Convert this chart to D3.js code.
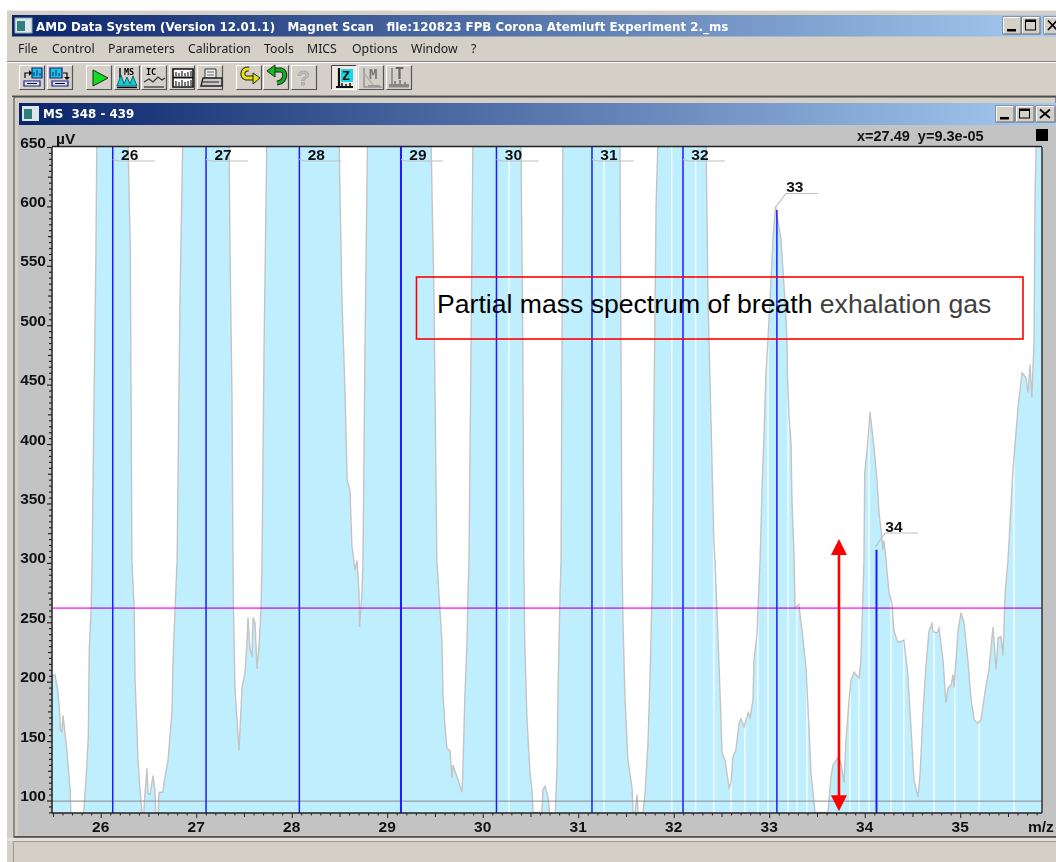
<!DOCTYPE html>
<html><head><meta charset="utf-8">
<script src="https://cdn.jsdelivr.net/npm/d3@7"></script>
<style>
html,body{margin:0;padding:0;background:#fff;overflow:hidden}
svg{display:block}
.ui{font-family:"Noto Sans",sans-serif;font-size:12.3px;fill:#1a1a1a}
.bold{font-family:"Liberation Sans",Arial,sans-serif;font-weight:bold;font-size:15.5px;fill:#111}
.title{font-family:"DejaVu Sans",sans-serif;font-weight:bold;font-size:11.85px;fill:#fff}
</style></head><body><div id="c"></div>
<script>
// ---------- data ----------
const mz = [25.49,25.52,25.55,25.57,25.58,25.595,25.605,25.64,25.68,25.69,25.815,25.825,25.85,25.87,25.88,25.90,25.91,25.93,25.95,25.96,
26.285,26.31,26.327,26.35,26.36,26.38,26.39,26.41,26.43,26.44,26.45,26.458,26.485,26.495,26.516,26.548,26.568,26.578,26.60,26.61,26.65,26.673,26.705,26.747,26.757,26.778,26.80,26.83,26.86,
27.343,27.354,27.375,27.385,27.39,27.406,27.427,27.448,27.47,27.48,27.51,27.532,27.542,27.563,27.584,27.595,27.616,27.636,27.657,27.678,27.689,27.71,27.74,
28.495,28.526,28.558,28.58,28.61,28.63,28.663,28.684,28.705,28.71,28.736,28.746,28.767,28.794,
29.458,29.49,29.52,29.55,29.574,29.584,29.605,29.626,29.657,29.678,29.689,29.73,29.783,29.793,29.814,29.835,29.846,29.856,29.877,29.898,
30.40,30.42,30.43,30.44,30.463,30.495,30.516,30.527,30.62,30.63,30.652,30.684,30.705,30.757,30.778,30.788,30.81,30.82,30.84,
31.437,31.458,31.47,31.49,31.52,31.563,31.574,31.595,31.616,31.626,31.678,31.70,31.73,31.752,31.773,31.794,31.815,31.836,
32.338,32.359,32.39,32.42,32.432,32.453,32.485,32.506,32.537,32.579,32.60,32.62,32.65,32.684,32.705,32.737,32.78,32.80,32.83,32.84,32.872,32.883,32.904,32.925,32.946,32.966,32.987,
33.018,33.04,33.066,33.08,33.123,33.165,33.186,33.19,33.207,33.228,33.238,33.26,33.27,33.31,33.343,33.385,33.416,33.437,33.48,33.615,33.647,33.668,33.72,33.75,33.783,33.804,33.836,33.856,33.888,33.94,33.96,33.982,33.992,
34.0,34.034,34.055,34.076,34.097,34.128,34.15,34.17,34.19,34.2,34.22,34.254,34.285,34.306,34.337,34.358,34.41,34.45,34.484,34.516,34.557,34.58,34.61,34.64,34.673,34.705,34.715,34.757,34.778,34.82,34.85,34.872,34.904,34.925,34.935,34.977,
35.008,35.04,35.08,35.113,35.145,35.186,35.217,35.27,35.30,35.343,35.375,35.396,35.427,35.448,35.47,35.50,35.55,35.605,35.647,35.688,35.71,35.73,35.75,35.773,35.783,35.794,35.80,35.856];
const uV = [204,206,193,174,159,158,172,147,109,85,85,94,123,153,227,262,302,437,563,660,
660,563,302,262,201,159,134,111,92,85,85,100,127,106,105,121,109,85,85,107,107,120,134,176,218,260,302,521,660,
660,563,437,302,262,195,168,142,179,195,207,233,254,228,221,254,249,211,229,260,302,479,660,
660,521,445,370,361,315,294,302,275,246,275,302,479,660,
660,521,302,263,233,190,162,144,142,119,130,120,107,128,190,233,275,302,479,660,
660,479,302,233,170,123,109,90,90,109,112,103,85,85,128,190,275,302,660,
660,302,246,185,134,111,90,90,105,90,90,106,148,204,275,437,600,660,
660,521,420,319,302,260,190,140,134,111,115,137,142,165,169,162,174,170,185,218,241,263,302,364,409,460,488,
538,574,600,593,572,521,488,460,423,401,353,305,262,265,243,212,162,123,90,90,120,130,136,132,115,151,185,201,208,203,218,275,302,
376,403,427,412,397,370,342,328,311,319,305,275,266,243,235,233,235,207,162,117,103,123,174,212,243,249,242,241,245,218,182,195,197,206,195,243,
258,249,218,185,168,165,168,197,210,246,210,237,238,222,275,302,376,431,460,456,443,467,439,488,609,648,660,660];
// centroid sticks: nominal mass, position, height
const stickMass = [26,27,28,29,30,31,32,33,34];
const stickMz   = [26.126,27.103,28.08,29.144,30.144,31.144,32.097,33.08,34.123];
const stickUV   = [660,660,660,660,660,660,660,597,311];
// scan gaps (thin white lines inside the filled profile)
const gapMz = [30.275,31.27,31.98,32.23,32.42,32.6,32.745,32.88,32.987,33.197,33.29,33.395,33.846,33.94,34.045,34.275,34.41,34.725,34.945,35.197,35.563];
const xTicks = [26,27,28,29,30,31,32,33,34,35];
const yLabels = [100,150,200,250,300,350,400,450,500,550,600,650];
const thresholdUV = 262, baselineUV = 99.5;
const arrowMz = 33.73, arrowTopUV = 320, arrowBottomUV = 91;
const menuItems = ["File","Control","Parameters","Calibration","Tools","MICS","Options","Window","?"];
const menuStart = [18,52,108,188,264,307,352,411,471];
const appTitle = "AMD Data System (Version 12.01.1)   Magnet Scan   file:120823 FPB Corona Atemluft Experiment 2._ms";
const subTitle = "MS  348 - 439";
const readout = "x=27.49  y=9.3e-05";
const noteA = "Partial mass spectrum of breath ", noteB = "exhalation gas";

// ---------- layout ----------
const W=1056,H=862;
const L=52,R=1042,T=147,B=813;
const x=d3.scaleLinear().domain([25.49,35.856]).range([L,R]);
const y=d3.scaleLinear().domain([89.5,650]).range([B,T]);
const svg=d3.select("#c").append("svg").attr("width",W).attr("height",H);
const defs=svg.append("defs");
const grad=(id,c0,c1)=>{const g=defs.append("linearGradient").attr("id",id);
  g.append("stop").attr("offset","0").attr("stop-color",c0);
  g.append("stop").attr("offset","1").attr("stop-color",c1);};
grad("tb","#0a246a","#a6caf0");
defs.append("clipPath").attr("id","plot").append("rect").attr("x",L).attr("y",T).attr("width",R-L).attr("height",B-T);
const pts=mz.map((m,i)=>[m,uV[i]]);
const line=d3.line().x(d=>x(d[0])).y(d=>y(d[1]));
const area=d3.area().x(d=>x(d[0])).y0(y(80)).y1(d=>y(d[1]));
defs.append("clipPath").attr("id","under").append("path").attr("d",area(pts));

const shot=svg.append("g").style("filter","blur(0.35px)");
// window chrome
shot.append("rect").attr("x",7).attr("y",10).attr("width",W-7).attr("height",H-10).attr("fill","#d4d0c8");
shot.append("rect").attr("x",7).attr("y",10).attr("width",W-7).attr("height",1).attr("fill","#eeeae4");
shot.append("rect").attr("x",12).attr("y",15).attr("width",W-12).attr("height",21.5).attr("fill","url(#tb)");
shot.append("rect").attr("x",15).attr("y",18).attr("width",17).attr("height",15).attr("fill","#dfe6ea").attr("stroke","#8aa","stroke-width",.5);
shot.append("rect").attr("x",17).attr("y",21).attr("width",8).attr("height",10).attr("fill","#2f7f7f");
shot.append("text").attr("class","title").attr("x",36).attr("y",30.5).attr("xml:space","preserve").style("white-space","pre").text(appTitle);
shot.selectAll("text.m").data(menuItems).join("text").attr("class","ui m").attr("x",(d,i)=>menuStart[i]).attr("y",53).text(d=>d);
shot.append("rect").attr("x",7).attr("y",61).attr("width",W-7).attr("height",1).attr("fill","#808080");
shot.append("rect").attr("x",7).attr("y",62).attr("width",W-7).attr("height",1).attr("fill","#fff");
shot.append("rect").attr("x",12).attr("y",95.5).attr("width",W-12).attr("height",1.5).attr("fill","#555");

// inner window
shot.append("rect").attr("x",14).attr("y",97).attr("width",W-14).attr("height",740).attr("fill","#d4d0c8").attr("stroke","#444","stroke-width",1.4);
shot.append("rect").attr("x",19).attr("y",103).attr("width",W-19).attr("height",22).attr("fill","url(#tb)");
shot.append("rect").attr("x",22).attr("y",106).attr("width",17).attr("height",15).attr("fill","#dfe6ea");
shot.append("rect").attr("x",24).attr("y",109).attr("width",8).attr("height",10).attr("fill","#2f7f7f");
shot.append("text").attr("class","title").attr("x",43).attr("y",118).attr("xml:space","preserve").style("white-space","pre").text(subTitle);
shot.append("rect").attr("x",18).attr("y",125).attr("width",W-18).attr("height",711).attr("fill","#c3c3c3");
shot.append("rect").attr("x",14).attr("y",836).attr("width",W-14).attr("height",1.6).attr("fill","#555");
shot.append("rect").attr("x",7).attr("y",838).attr("width",W-7).attr("height",3).attr("fill","#e4e0da");
shot.append("rect").attr("x",13).attr("y",841).attr("width",W-13).attr("height",1).attr("fill","#9a9a9a");
shot.append("rect").attr("x",13).attr("y",841).attr("width",1).attr("height",21).attr("fill","#9a9a9a");

// window buttons
function winBtn(bx,by,bw,bh,k){
  const g=shot.append("g").attr("transform",`translate(${bx},${by})`);
  g.append("rect").attr("width",bw).attr("height",bh).attr("fill","#d4d0c8").attr("stroke","#666").attr("stroke-width",1);
  g.append("path").attr("d",`M0.5 ${bh-.5}V.5H${bw-.5}`).attr("fill","none").attr("stroke","#fff");
  if(k==="min")g.append("rect").attr("x",4).attr("y",bh-5).attr("width",bw-9).attr("height",2.5).attr("fill","#000");
  if(k==="max"){g.append("rect").attr("x",3.5).attr("y",3).attr("width",bw-8).attr("height",bh-7).attr("fill","none").attr("stroke","#000");
    g.append("rect").attr("x",3.5).attr("y",3).attr("width",bw-8).attr("height",2).attr("fill","#000");}
  if(k==="x")g.append("path").attr("d",`M4 3.5L${bw-5} ${bh-4}M${bw-5} 3.5L4 ${bh-4}`).attr("stroke","#000").attr("stroke-width",1.8);
}
winBtn(1003,17,18,17,"min");winBtn(1022,17,18,17,"max");winBtn(1044,17,18,17,"x");
winBtn(996,106,18,16,"min");winBtn(1016,106,18,16,"max");winBtn(1036,106,19,16,"x");

// toolbar
const btns=[[19,"a"],[47,"b"],[86,"play"],[114,"ms"],[141,"ic"],[169,"tab"],[197,"print"],[236,"yel"],[263,"grn"],[291,"help"],[331,"z"],[358,"m"],[386,"t"]];
btns.forEach(([bx,k])=>{
  const g=shot.append("g").attr("transform",`translate(${bx},65)`);
  const pressed=k==="z";
  g.append("rect").attr("width",26).attr("height",25).attr("fill",pressed?"#ece9e3":"#d4d0c8");
  g.append("path").attr("d","M.5 24.5V.5H25.5").attr("fill","none").attr("stroke",pressed?"#444":"#fff");
  g.append("path").attr("d","M25.5 .5V24.5H.5").attr("fill","none").attr("stroke",pressed?"#fff":"#555").attr("stroke-width",1.2);
  const p=(d,f,s,w)=>g.append("path").attr("d",d).attr("fill",f||"none").attr("stroke",s||"none").attr("stroke-width",w||1);
  const lbl=(t,lx,ly,c,fs)=>g.append("text").attr("x",lx).attr("y",ly).attr("fill",c||"#000").attr("font-family","DejaVu Sans Mono").attr("font-weight","bold").attr("font-size",fs||8.5).text(t);
  if(k==="a"){p("M13 3h10v10h-10z","#18c8d8","#1a1a8a",1.2);p("M15 11v-4M18 11v-6M21 11v-3","none","#1a1a8a");p("M10 8h-4v5","none","#000",1.2);p("M10 5l3 3l-3 3","#000");p("M5 16h16v5h-16z","#d8e4f0","#1a1a8a",1.2);p("M8 18.5h10","none","#000");}
  if(k==="b"){p("M3 3h12v10h-12z","#18c8d8","#1a1a8a",1.2);p("M6 11v-4M9 11v-6M12 11v-3","none","#1a1a8a");p("M16 8h4v5","none","#000",1.2);p("M17 12h6l-3 3z","#000");p("M5 16h16v5h-16z","#d8e4f0","#1a1a8a",1.2);p("M8 18.5h10","none","#000");}
  if(k==="play"){p("M7 5L22 13L7 21z","#10e020","#222",1);}
  if(k==="ms"){lbl("MS",10,10);p("M6 3v10","none","#000",1.4);p("M3 21L7 10L10 19L13 12L16 19L19 11L23 21z","#18c8d8","#0a6a6a");p("M3 22.5h20","none","#000",1.4);}
  if(k==="ic"){lbl("IC",5,10);p("M3 17L8 14L12 17L17 12L21 15L24 13","none","#333",1.2);p("M3 22h20","none","#444",1.4);}
  if(k==="tab"){p("M4 4h20v18h-20z","#fff","#111",1.6);p("M4 12.5h20","none","#111",2);
    p("M7 11V7M10 11V8M13 11V6M16 11V8M19 11V7M22 11V6M7 21V16M10 21V17M13 21V15M16 21V17M19 21V16M22 21V15","none","#222",1.2);}
  if(k==="print"){p("M8 4h11v9h-11z","#eee","#333");p("M4 21l2-8h17l2 0v8z","#c8c8c8","#222",1.4);p("M10 7h7M10 10h7","none","#666");p("M6 17h16","none","#222");}
  if(k==="yel"){p("M13 4C6 3 5 12 10 13H19","none","#222",5);p("M13 4C6 3 5 12 10 13H19","none","#e6e010",3);p("M17 8L24 13L17 19z","#e6e010","#222");}
  if(k==="grn"){p("M11 5H18C24 6 23 17 14 18","none","#222",5);p("M11 5H18C24 6 23 17 14 18","none","#10b020",3);p("M12 0L4 6L12 12z","#10c020","#222");}
  if(k==="help"){g.append("text").attr("x",6).attr("y",20).attr("font-family","Liberation Sans").attr("font-weight","bold").attr("font-size",21).attr("fill","#bdbdbd").attr("stroke","#999").attr("stroke-width",.5).text("?");}
  if(k==="z"){p("M8 3v19M5 22h17","none","#111",2.2);p("M10 4h12v13h-12z","#18d8e8");lbl("Z",11,15,"#111",13);p("M11 22v-4M15 22v-3M19 22v-4","none","#111",1.5);}
  if(k==="m"){p("M6 3v19h18","none","#999",1.6);p("M6 8L15 20","none","#aaa",1.2);lbl("M",11,14,"#777",14);p("M10 21h12","none","#999",2);}
  if(k==="t"){p("M6 3v19","none","#888",1.6);lbl("T",9,14,"#666",15);p("M3 19h20v3.5h-20z","#888");p("M9 19v-3M14 19v-4M19 19v-2","none","#888",2);}
});

// plot area
const plot=shot.append("g").attr("clip-path","url(#plot)");
plot.append("rect").attr("x",L).attr("y",T).attr("width",R-L).attr("height",B-T).attr("fill","#fff");
plot.append("path").attr("d",area(pts)).attr("fill","#bfeeff");
plot.append("g").attr("clip-path","url(#under)").selectAll("line").data(gapMz).join("line")
  .attr("x1",d=>x(d)).attr("x2",d=>x(d)).attr("y1",T).attr("y2",B).attr("stroke","#fff").attr("stroke-width",1.2);
plot.append("path").attr("d",line(pts)).attr("fill","none").attr("stroke","#c4c4c4").attr("stroke-width",1.4);
plot.append("line").attr("x1",L).attr("x2",R).attr("y1",y(baselineUV)).attr("y2",y(baselineUV)).attr("stroke","#8a8a8a").attr("stroke-width",1);
plot.append("line").attr("x1",L).attr("x2",R).attr("y1",y(thresholdUV)).attr("y2",y(thresholdUV)).attr("stroke","#ff50ff").attr("stroke-width",1.7).style("mix-blend-mode","multiply");
plot.selectAll("line.s").data(stickMz).join("line").attr("class","s")
  .attr("x1",d=>x(d)).attr("x2",d=>x(d)).attr("y1",(d,i)=>y(stickUV[i])).attr("y2",B)
  .attr("stroke","#1c1cff").attr("stroke-width",(d,i)=>(i===3||i===8)?2:1.5);

// peak labels with leader lines
stickMass.forEach((m,i)=>{
  const sx=x(stickMz[i]), free=i>=7;
  const ly=i===7?193.5:i===8?533:161;
  const lx0=i===7?sx+9:i===8?sx+8.5:sx+1;
  const lx1=i===7?sx+41:i===8?sx+41.5:sx+42;
  const tx=i===7?sx+18:i===8?sx+17.5:sx+17;
  shot.append("path").attr("d",free?`M${sx-1} ${y(stickUV[i])-3}L${lx0} ${ly}H${lx1}`:`M${sx} ${ly-1.5}L${lx0+4} ${ly}H${lx1}`)
    .attr("fill","none").attr("stroke","#c0c0c0").attr("stroke-width",1.2);
  shot.append("text").attr("class","bold").attr("x",tx).attr("y",ly-1.5).attr("text-anchor","middle").text(m);
});

// axes
const minorY=d3.range(90,651,5);
const axY=shot.append("g").attr("transform",`translate(${L},0)`)
  .call(d3.axisLeft(y).tickValues(minorY).tickSize(3).tickPadding(0).tickFormat(d=>yLabels.includes(d)?d:""));
axY.select(".domain").attr("stroke","#222").attr("stroke-width",1.5).attr("d",`M0 ${T}V${B}`);
axY.selectAll(".tick line").attr("stroke","#222").attr("stroke-width",1.2).attr("x2",d=>d%50===0?-5:d%25===0?-4:-3);
axY.selectAll(".tick text").attr("class","bold").attr("x",-6).attr("dy",0).attr("y",0).attr("text-anchor","end").style("font-family",null).attr("font-size",null);
const minorX=d3.range(25.5,35.85,0.1);
const axX=shot.append("g").attr("transform",`translate(0,${B})`)
  .call(d3.axisBottom(x).tickValues(minorX).tickSize(3).tickPadding(0).tickFormat(""));
axX.select(".domain").attr("stroke","#222").attr("stroke-width",1.5).attr("d",`M${L} 0H${R}`);
axX.selectAll(".tick line").attr("stroke","#222").attr("stroke-width",1)
  .attr("y2",d=>{const t=Math.round(d*10);return t%10===0?5:t%5===0?4:2.5;});
const axX2=shot.append("g").attr("transform",`translate(0,${B})`);
axX2.selectAll("text").data(xTicks).join("text").attr("class","bold").attr("x",d=>x(d)).attr("y",19).attr("text-anchor","middle").text(d=>d);
shot.append("line").attr("x1",R).attr("x2",R).attr("y1",T).attr("y2",B).attr("stroke","#333").attr("stroke-width",1.5);
shot.append("line").attr("x1",L).attr("x2",R).attr("y1",T-.5).attr("y2",T-.5).attr("stroke","#222").attr("stroke-width",1.5);
shot.append("text").attr("class","bold").attr("x",1028).attr("y",832).text("m/z");
shot.append("text").attr("class","bold").attr("x",56).attr("y",144).text("µV");
shot.append("text").attr("class","bold").attr("x",857).attr("y",141).style("font-size","14.5px").style("white-space","pre").attr("xml:space","preserve").text(readout);
shot.append("rect").attr("x",1036).attr("y",129).attr("width",12).attr("height",12).attr("fill","#000");

// annotations (crisp, pasted on the screenshot)
const ann=svg.append("g");
const ax=x(arrowMz), ayT=y(arrowTopUV), ayB=y(arrowBottomUV);
ann.append("line").attr("x1",ax).attr("x2",ax).attr("y1",ayT+10).attr("y2",ayB-10).attr("stroke","#f00").attr("stroke-width",2.6);
ann.append("path").attr("d",`M${ax} ${ayT}l8 16h-16z`).attr("fill","#f00");
ann.append("path").attr("d",`M${ax} ${ayB}l8 -16h-16z`).attr("fill","#f00");
ann.append("rect").attr("x",416.5).attr("y",277).attr("width",606.5).attr("height",62).attr("fill","#fff").attr("fill-opacity",0).attr("stroke","#f00").attr("stroke-width",1.6);
const note=ann.append("text").attr("x",437).attr("y",313).attr("font-family","Liberation Sans").attr("font-size",26.6).style("white-space","pre").attr("xml:space","preserve");
note.append("tspan").attr("fill","#000").text(noteA);
note.append("tspan").attr("fill","#404040").text(noteB);
</script></body></html>
